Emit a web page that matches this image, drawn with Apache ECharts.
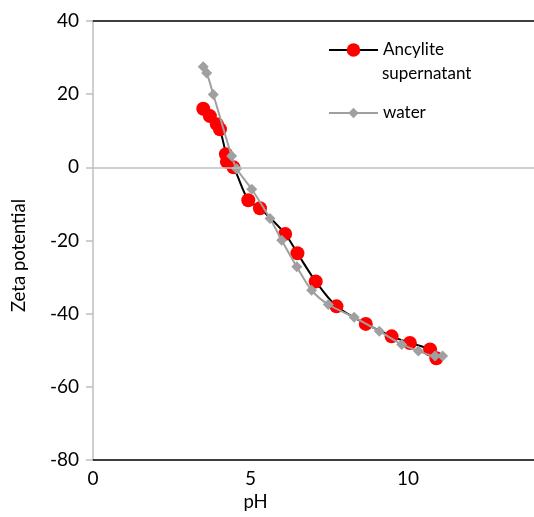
<!DOCTYPE html>
<html><head><meta charset="utf-8">
<script src="https://cdn.jsdelivr.net/npm/echarts@6/dist/echarts.min.js"></script>
<style>html,body{margin:0;padding:0;background:#fff}#c{width:534px;height:517px}</style>
</head><body><div id="c"></div>
<script>
const xTicks = [0, 5, 10];
const yTicks = [-80, -60, -40, -20, 0, 20, 40];
const ancylite = [[3.5,16],[3.71,14],[3.93,11.8],[4.03,10.4],[4.22,3.6],[4.25,1.5],[4.46,0],[4.93,-9],[5.3,-11.2],[6.1,-18.2],[6.49,-23.5],[7.07,-31.2],[7.73,-38],[8.66,-42.8],[9.48,-46.2],[10.06,-48],[10.7,-49.8],[10.9,-52.2]];
const water = [[3.5,27.5],[3.61,25.8],[3.82,19.9],[4.4,3.1],[4.56,-0.4],[5.04,-6],[5.62,-14],[5.99,-19.9],[6.47,-27.2],[6.94,-33.6],[7.47,-37.5],[8.29,-41],[9.09,-44.8],[9.8,-48.4],[10.33,-50.2],[10.86,-51.6],[11.1,-51.6]];
const FONT = 'Lato, "Open Sans", sans-serif';
const chart = echarts.init(document.getElementById('c'));
chart.setOption({
  animation: false,
  textStyle: {fontFamily: FONT},
  grid: {left: 93, right: 0, top: 21, bottom: 54},
  legend: [
    {data: ['Ancylite supernatant'], left: 323, top: 36.5, orient: 'vertical', itemWidth: 49, itemHeight: 17,
     formatter: () => 'Ancylite', textStyle: {fontSize: 17, color: '#000', fontFamily: FONT}},
    {data: ['water'], left: 323, top: 99.5, orient: 'vertical', itemWidth: 49, itemHeight: 13,
     textStyle: {fontSize: 17, color: '#000', fontFamily: FONT}}
  ],
  graphic: [{type: 'text', x: 382, y: 74, style: {text: 'supernatant', fontSize: 17, fill: '#000', fontFamily: FONT, verticalAlign: 'middle'}}],
  xAxis: [
    {type: 'value', min: xTicks[0], max: 14, interval: 5, position: 'bottom',
     name: 'pH', nameLocation: 'middle', nameGap: 33,
     nameTextStyle: {fontSize: 18.5, color: '#000', padding: [0, 116, 0, 0], fontFamily: FONT},
     axisLine: {onZero: false, lineStyle: {color: '#000', width: 1.5}},
     axisTick: {show: false}, splitLine: {show: false},
     axisLabel: {fontSize: 19, color: '#000', showMaxLabel: false, margin: 9, fontFamily: FONT}},
    {type: 'value', min: 0, max: 14, position: 'top',
     axisLine: {onZero: false, lineStyle: {color: '#000', width: 1.5}},
     axisTick: {show: false}, axisLabel: {show: false}, splitLine: {show: false}}
  ],
  yAxis: {type: 'value', min: yTicks[0], max: yTicks[yTicks.length-1], interval: 20,
    name: 'Zeta potential', nameLocation: 'middle', nameGap: 64,
    nameTextStyle: {fontSize: 18.5, color: '#000', padding: [0, 30, 0, 0], fontFamily: FONT},
    axisLine: {onZero: false, lineStyle: {color: '#bfbfbf', width: 1.5}},
    axisTick: {show: true, length: 7, lineStyle: {color: '#bfbfbf', width: 1.5}},
    axisLabel: {fontSize: 19, color: '#000', margin: 14, fontFamily: FONT},
    splitLine: {show: false}},
  series: [
    {type: 'line', name: 'zero', data: [], z: 1, silent: true,
     markLine: {silent: true, symbol: 'none', label: {show: false},
       lineStyle: {color: '#bfbfbf', width: 1.5, type: 'solid'}, data: [{yAxis: 0}]}},
    {type: 'line', name: 'Ancylite supernatant', data: ancylite, smooth: 0.3, z: 3,
     symbol: 'circle', symbolSize: 14, lineStyle: {color: '#000', width: 2},
     itemStyle: {color: '#ff0000'}},
    {type: 'line', name: 'water', data: water, smooth: 0.3, z: 4,
     symbol: 'diamond', symbolSize: 11, lineStyle: {color: '#a0a0a0', width: 2},
     itemStyle: {color: '#a0a0a0'}}
  ]
});
</script></body></html>
